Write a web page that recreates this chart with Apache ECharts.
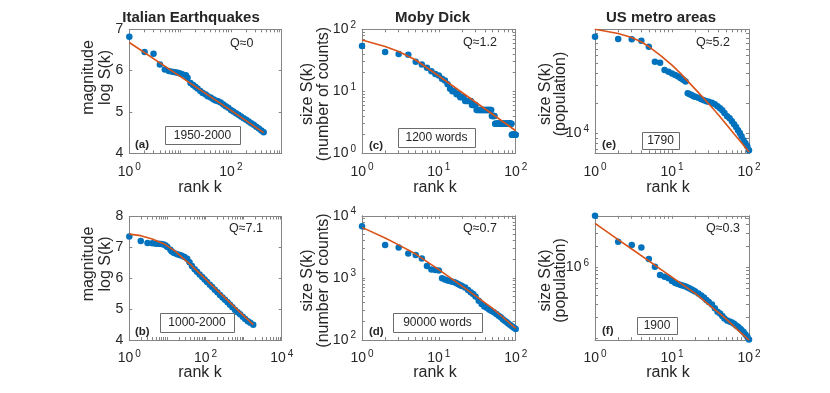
<!DOCTYPE html>
<html><head><meta charset="utf-8">
<script src="https://cdn.jsdelivr.net/npm/echarts@6/dist/echarts.min.js"></script>
<style>html,body{margin:0;padding:0;background:#fff}#c{width:830px;height:393px}</style>
</head><body><div id="c"></div>
<script>
// ---------- DATA ----------
// (a) Italian earthquakes 1950-2000
const aRank = [1,2,3,4,5,6,7,8,9,10,11,13,14,16,18,20,22,25,28,32,35,40,45,50,56,63,71,79,89,100,112,126,141,158,178,200,224,251,282,316,355,398,442];
const aMag  = [6.82,6.45,6.41,6.15,6.03,5.99,5.97,5.96,5.95,5.93,5.91,5.89,5.83,5.70,5.65,5.61,5.57,5.51,5.46,5.42,5.38,5.35,5.31,5.28,5.26,5.23,5.18,5.14,5.10,5.05,5.01,4.97,4.93,4.89,4.85,4.81,4.77,4.73,4.69,4.64,4.60,4.55,4.51];
const aFitRank = [1,10,100,442];
const aFit     = [6.68,5.86,5.04,4.50];
// (b) Italian earthquakes 1000-2000
const bRank = [1,2,3,4,5,6,7,8,9,10,12,13,15,18,21,24,28,33,38,44,52,60,70,82,95,110,130,150,175,205,240,280,325,380,440,510,600,700,810,950,1100,1290,1500,1790];
const bMag  = [7.35,7.21,7.14,7.13,7.12,7.12,7.11,7.09,7.06,7.01,6.92,6.87,6.82,6.78,6.75,6.73,6.69,6.63,6.52,6.40,6.29,6.21,6.12,6.04,5.96,5.88,5.79,5.72,5.63,5.55,5.46,5.38,5.30,5.22,5.14,5.06,4.97,4.90,4.83,4.75,4.68,4.61,4.56,4.49];
const bFitRank = [1,2,4,8,16,25,40,100,316,1000,1790];
const bFit     = [7.43,7.38,7.27,7.12,6.88,6.66,6.45,5.97,5.38,4.79,4.50];
// (c) Moby Dick, 1200 words
const cRank = [1,2,3,4,5,6,7,8,9,10,11,12,13,14,15,16,17,18,19,20,21,22,23,24,25,26,27,28,29,30,31,32,33,34,35,36,37,38,39,40,41,42,43,44,45,46,47,48,49,50,51,52,53,54,55,56,57,58,59,60,61,62,63,64,65,66,67,68,69,70,71,72,73,74,75,76,77,78,79,80,81,82,83,84,85,86,87,88,89,90,91,92,93,94,95,96,97,98,99,100];
const cCount = [54,43,40,39,30,27,24,21,19,18,16,15,13,11,10,10,9,9,8,8,8,7,7,7,7,7,6,6,6,6,5,5,5,5,5,5,5,5,5,5,5,5,5,5,5,5,5,5,4,4,4,4,4,3,3,3,3,3,3,3,3,3,3,3,3,3,3,3,3,3,3,3,3,3,3,3,3,3,3,3,3,3,3,3,3,3,3,3,2,2,2,2,2,2,2,2,2,2,2,2];
const cFitRank = [1,2,3,5,7,10,20,50,100];
const cFit     = [67.2,52.8,43.8,32.0,24.0,17.65,9.56,4.26,2.31];
// shared ranks for (d), (e), (f)
const dRank = [1,2,3,4,5,6,7,8,9,10,11,12,13,14,15,16,17,18,19,20,22,24,26,28,30,33,36,39,42,45,48,52,56,60,64,68,72,76,80,85,90,95,100];
// (d) Moby Dick, 90000 words
const dCount = [6800,3380,3090,2480,2330,2060,1550,1360,1340,1320,990,940,910,890,870,850,820,790,760,740,700,640,590,550,500,430,380,345,330,310,295,280,262,245,232,215,205,195,185,175,165,158,150];
const dFitRank = [1,2,3,5,7,10,14,20,30,50,70,100];
const dFit     = [6508,4377,3402,2419,1833,1363,1013,739,512,324,226,154];
// (e) US metro areas 1790
const ePop = [92500,87700,87100,84300,73500,52000,50800,43000,41300,39800,38300,37000,35700,34500,33000,25300,24700,24200,23600,23300,22800,22000,21500,21000,20800,20300,19600,18700,17900,17100,16000,14900,14200,13300,12400,11600,10800,10100,9400,8570,8000,7450,6810];
const eFitRank = [1,2,3,4,5,7,10,13,16,20,25,32,40,50,63,80,100];
const eFit     = [109650,99540,90780,81850,73790,60670,48190,39630,33340,27730,23070,18750,15420,12530,10070,8091,6546];
// (f) US metro areas 1900
const fPop = [5330000,2290000,2060000,1913000,1309000,1020000,779000,737000,700000,641000,601000,582000,563000,551000,537000,519000,503000,487000,471000,456000,428000,401000,376000,346000,324000,299000,266000,237000,223000,207000,191000,179000,172000,167000,161000,152000,145000,138000,131000,123000,113000,105000,96500];
const fFitRank = [1,2,3,5,7,10,14,20,30,50,70,100];
const fFit     = [4166000,2463000,1816000,1231000,952000,728000,563000,430000,299000,189000,134000,94600];

// ---------- STYLE ----------
const AX = '#858585', TXT = '#262626', BLUE = '#0072BD', ORANGE = '#D95319';
const FONT = '"Liberation Sans", Arial, Helvetica, sans-serif';

function logTicks(min, max) {
  const t = [];
  for (let d = Math.floor(Math.log10(min)); d <= Math.ceil(Math.log10(max)); d++) {
    for (let m = 1; m <= 9; m++) {
      const v = m * Math.pow(10, d);
      if (v >= min * 0.9999 && v <= max * 1.0001) t.push(v);
    }
  }
  return t;
}
const RICH = {
  b: {fontSize: 14, fontFamily: FONT, color: TXT},
  e: {fontSize: 10, fontFamily: FONT, color: TXT, padding: [0, 0, 9, 2]}
};
function pow10(v) { return '{b|10}{e|' + Math.round(Math.log10(v)) + '}'; }

const panels = [
  {grid: {left: 129.3, top: 29.3, width: 152.4, height: 124}, x: [1, 1000], xl: [1, 100], y: [4, 7], ylog: false,
   rank: aRank, val: aMag, fr: aFitRank, fv: aFit},
  {grid: {left: 129.3, top: 216.5, width: 152.4, height: 123.5}, x: [1, 10000], xl: [1, 100, 10000], y: [4, 8], ylog: false,
   rank: bRank, val: bMag, fr: bFitRank, fv: bFit},
  {grid: {left: 362, top: 29.3, width: 153.7, height: 124}, x: [1, 100], xl: [1, 10, 100], y: [1, 100], yl: [1, 10, 100], ylog: true,
   rank: cRank, val: cCount, fr: cFitRank, fv: cFit},
  {grid: {left: 362, top: 215.8, width: 153.7, height: 124.2}, x: [1, 100], xl: [1, 10, 100], y: [100, 10000], yl: [100, 1000, 10000], ylog: true,
   rank: dRank, val: dCount, fr: dFitRank, fv: dFit},
  {grid: {left: 595, top: 29.3, width: 154, height: 124}, x: [1, 100], xl: [1, 10, 100], y: [6353, 109650], yl: [10000], ylog: true,
   rank: dRank, val: ePop, fr: eFitRank, fv: eFit},
  {grid: {left: 595, top: 215.8, width: 154, height: 124.2}, x: [1, 100], xl: [1, 10, 100], y: [94700, 5330000], yl: [1000000], ylog: true,
   rank: dRank, val: fPop, fr: fFitRank, fv: fFit}
];

const grids = [], xAxes = [], yAxes = [], series = [];
panels.forEach((p, i) => {
  grids.push(Object.assign({containLabel: false, outerBoundsMode: 'none'}, p.grid));
  const xt = logTicks(p.x[0], p.x[1]);
  const xBase = {type: 'log', logBase: 10, gridIndex: i, min: p.x[0], max: p.x[1], silent: true,
    splitLine: {show: false}, minorTick: {show: false},
    axisLine: {show: true, onZero: false, lineStyle: {color: AX, width: 1}},
    axisTick: {show: true, inside: true, length: 3, customValues: xt, lineStyle: {color: AX}}};
  xAxes.push(Object.assign({}, xBase, {position: 'bottom',
    axisLabel: {show: true, customValues: p.xl, formatter: pow10, rich: RICH, margin: 9, hideOverlap: false}}));
  xAxes.push(Object.assign({}, xBase, {position: 'top', axisLabel: {show: false}}));
  let yBase;
  if (p.ylog) {
    yBase = {type: 'log', logBase: 10, gridIndex: i, min: p.y[0], max: p.y[1], silent: true,
      splitLine: {show: false}, minorTick: {show: false},
      axisLine: {show: true, onZero: false, lineStyle: {color: AX, width: 1}},
      axisTick: {show: true, inside: true, length: 3, customValues: logTicks(p.y[0], p.y[1]), lineStyle: {color: AX}}};
    yAxes.push(Object.assign({}, yBase, {position: 'left',
      axisLabel: {show: true, customValues: p.yl, formatter: pow10, rich: RICH, margin: 6}}));
  } else {
    yBase = {type: 'value', gridIndex: i, min: p.y[0], max: p.y[1], interval: 1, silent: true,
      splitLine: {show: false},
      axisLine: {show: true, onZero: false, lineStyle: {color: AX, width: 1}},
      axisTick: {show: true, inside: true, length: 3, lineStyle: {color: AX}}};
    yAxes.push(Object.assign({}, yBase, {position: 'left',
      axisLabel: {show: true, fontSize: 14, fontFamily: FONT, color: TXT, margin: 6}}));
  }
  yAxes.push(Object.assign({}, yBase, {position: 'right', axisLabel: {show: false}}));
  series.push({type: 'scatter', xAxisIndex: 2 * i, yAxisIndex: 2 * i, silent: true, clip: false,
    data: p.rank.map((r, j) => [r, p.val[j]]), symbol: 'circle', symbolSize: 6.5,
    itemStyle: {color: BLUE, opacity: 1}, z: 2});
  series.push({type: 'line', xAxisIndex: 2 * i, yAxisIndex: 2 * i, silent: true, clip: true,
    data: p.fr.map((r, j) => [r, p.fv[j]]), showSymbol: false, symbol: 'none', smooth: false,
    lineStyle: {color: ORANGE, width: 1.6, join: 'round'}, z: 3});
});

// ---------- TEXT ----------
const g = [];
function txt(t, x, y, o) {
  o = o || {};
  g.push({type: 'text', x: x, y: y, rotation: o.rot || 0, z: 10, silent: true,
    style: {text: t, fill: TXT, font: (o.bold ? 'bold ' : '') + (o.size || 14) + 'px ' + FONT,
      align: o.align || 'center', verticalAlign: 'middle'}});
}
function box(t, x0, x1, y0, y1) {
  g.push({type: 'rect', z: 9, silent: true, shape: {x: Math.round(x0) + 0.5, y: Math.round(y0) + 0.5, width: Math.round(x1 - x0), height: Math.round(y1 - y0)},
    style: {fill: '#fff', stroke: '#6b6b6b', lineWidth: 1}});
  txt(t, (x0 + x1) / 2, (y0 + y1) / 2 + 0.5, {size: 12});
}
const titles = ['Italian Earthquakes', 'Moby Dick', 'US metro areas'];
const titleX = [191, 432.5, 661];
titles.forEach((t, i) => txt(t, titleX[i], 18, {bold: true, size: 15}));
[200, 435, 668].forEach(x => { txt('rank k', x, 187.5, {size: 16}); txt('rank k', x, 373, {size: 16}); });
const R = Math.PI / 2;
[77.5, 264].forEach(cy => {
  txt('magnitude', 89, cy, {size: 16, rot: R});
  txt('log S(k)', 106, cy, {size: 16, rot: R});
});
[94, 280.5].forEach(cy => {
  txt('size S(k)', 308, cy, {size: 16, rot: R});
  txt('(number of counts)', 324, cy, {size: 16, rot: R});
  txt('size S(k)', 546, cy, {size: 16, rot: R});
  txt('(population)', 561, cy, {size: 16, rot: R});
});
txt('Q≈0', 230, 43.5, {size: 12.5, align: 'left'});
txt('Q≈1.2', 463, 42.5, {size: 12.5, align: 'left'});
txt('Q≈5.2', 696, 43, {size: 12.5, align: 'left'});
txt('Q≈7.1', 229, 228.5, {size: 12.5, align: 'left'});
txt('Q≈0.7', 463, 228.5, {size: 12.5, align: 'left'});
txt('Q≈0.3', 706, 228.5, {size: 12.5, align: 'left'});
txt('(a)', 135, 144.5, {size: 11.5, bold: true, align: 'left'});
txt('(c)', 369, 145.5, {size: 11.5, bold: true, align: 'left'});
txt('(e)', 602, 145, {size: 11.5, bold: true, align: 'left'});
txt('(b)', 135, 331.5, {size: 11.5, bold: true, align: 'left'});
txt('(d)', 369, 331.5, {size: 11.5, bold: true, align: 'left'});
txt('(f)', 602, 331, {size: 11.5, bold: true, align: 'left'});
box('1950-2000', 165, 240, 126, 144);
box('1200 words', 398, 475, 128, 147);
box('1790', 642, 679, 132, 149);
box('1000-2000', 160, 234, 313, 332);
box('90000 words', 393, 482, 313, 332);
box('1900', 637, 677, 317, 334);

const chart = echarts.init(document.getElementById('c'), null, {renderer: 'canvas'});
chart.setOption({
  animation: false,
  backgroundColor: '#fff',
  textStyle: {fontFamily: FONT},
  grid: grids, xAxis: xAxes, yAxis: yAxes, series: series, graphic: g
});
</script></body></html>
